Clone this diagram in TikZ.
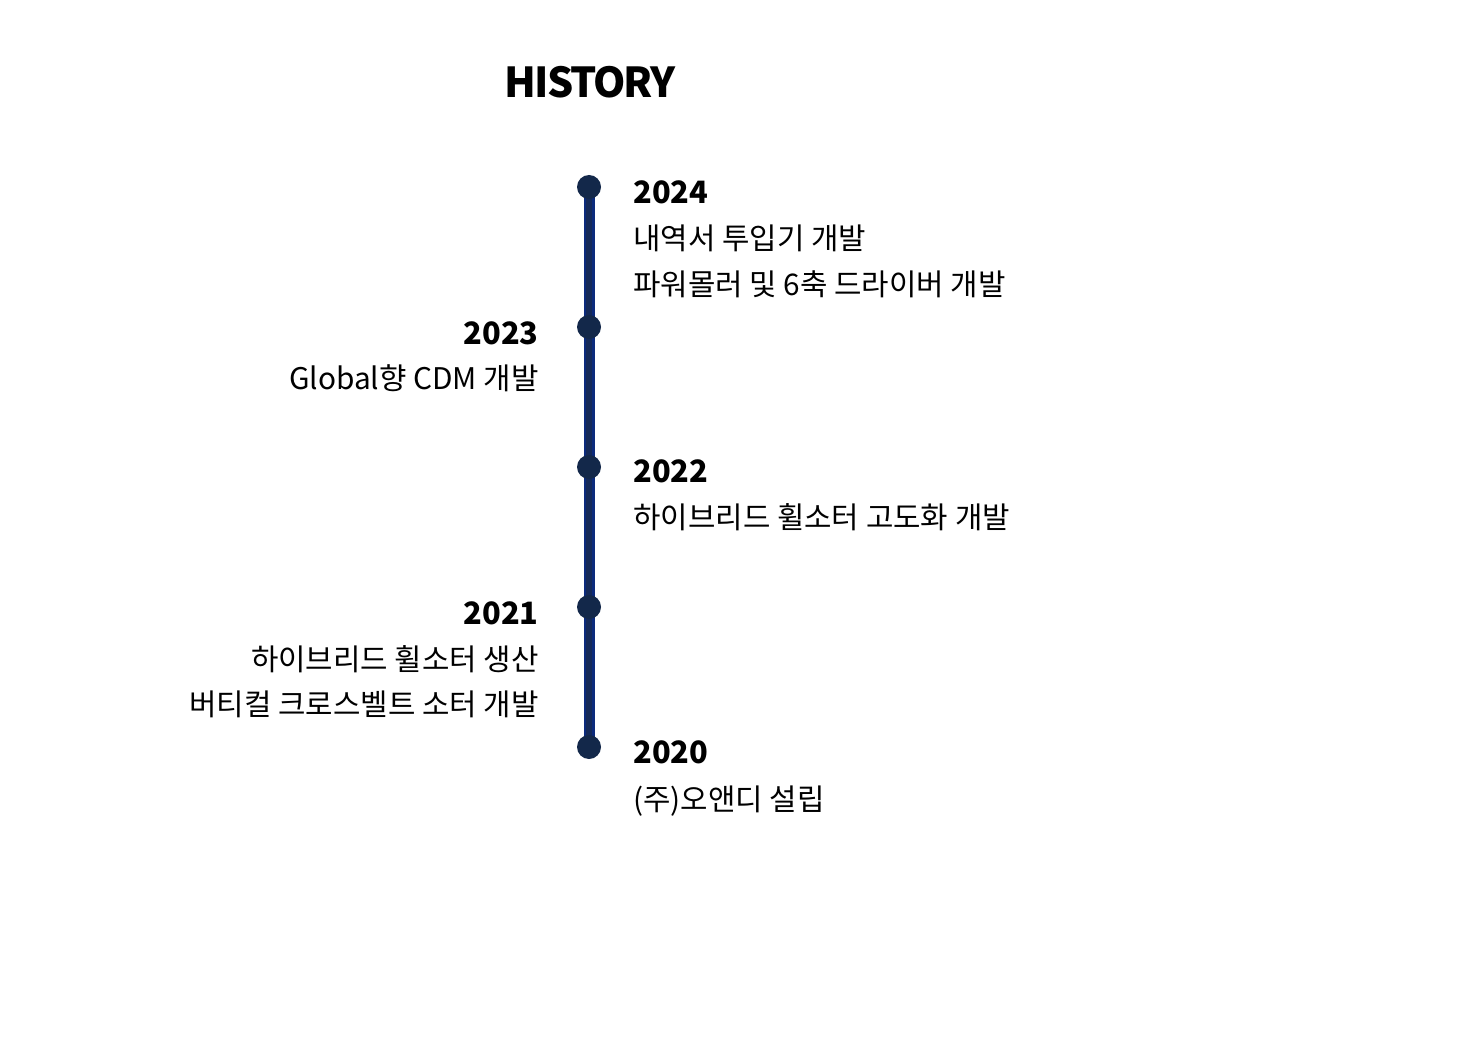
\documentclass[tikz,border=0pt]{standalone}
\usepackage{fontspec}
\setmainfont{Noto Sans CJK KR}
\newfontfamily\krfont{Noto Sans CJK KR}
\newfontfamily\titlefont[LetterSpace=-5]{Noto Sans CJK KR}
\definecolor{linenavy}{HTML}{0B2A7C}
\definecolor{linedark}{HTML}{142958}
\definecolor{dotnavy}{HTML}{13284A}
\begin{document}
\begin{tikzpicture}[x=0.5pt,y=-0.5pt,
  titletext/.style={font=\titlefont\bfseries\fontsize{20.6}{24}\selectfont, inner sep=0pt},
  yeartext/.style={font=\krfont\bfseries\fontsize{15.4}{18}\selectfont, inner sep=0pt},
  bodytext/.style={font=\krfont\fontsize{14.9}{18}\selectfont, inner sep=0pt},
  dotmark/.style={circle, fill=dotnavy, minimum size=12pt, inner sep=0pt},
  ]
\useasboundingbox (0,0) rectangle (1484,1064);
\fill[white] (0,0) rectangle (1484,1064);
% title
\node[titletext, anchor=base] (title) at (590,98) {HISTORY};
% timeline points
\coordinate (p2024) at (589,187);
\coordinate (p2023) at (589,327);
\coordinate (p2022) at (589,467);
\coordinate (p2021) at (589,607);
\coordinate (p2020) at (589,747);
\draw[linenavy, line width=5.5pt] (p2024) -- (p2020);
\draw[linedark, line width=3.2pt] (p2024) -- (p2020);
\foreach \p in {p2024,p2023,p2022,p2021,p2020}
  \node[dotmark] (d\p) at (\p) {};
% 2024
\node[yeartext, anchor=base west] (y2024) at (633,204) {2024};
\node[bodytext, anchor=base west] (t2024a) at (633,250) {내역서 투입기 개발};
\node[bodytext, anchor=base west] (t2024b) at (633,296) {파워몰러 및 6축 드라이버 개발};
% 2023
\node[yeartext, anchor=base east] (y2023) at (539,344) {2023};
\node[bodytext, anchor=base east] (t2023a) at (539,390) {Global향 CDM 개발};
% 2022
\node[yeartext, anchor=base west] (y2022) at (633,482) {2022};
\node[bodytext, anchor=base west] (t2022a) at (633,528) {하이브리드 휠소터 고도화 개발};
% 2021
\node[yeartext, anchor=base east] (y2021) at (539,624) {2021};
\node[bodytext, anchor=base east] (t2021a) at (539,670) {하이브리드 휠소터 생산};
\node[bodytext, anchor=base east] (t2021b) at (539,715) {버티컬 크로스벨트 소터 개발};
% 2020
\node[yeartext, anchor=base west] (y2020) at (633,763) {2020};
\node[bodytext, anchor=base west] (t2020a) at (633,810) {(주)오앤디 설립};
\end{tikzpicture}
\end{document}
